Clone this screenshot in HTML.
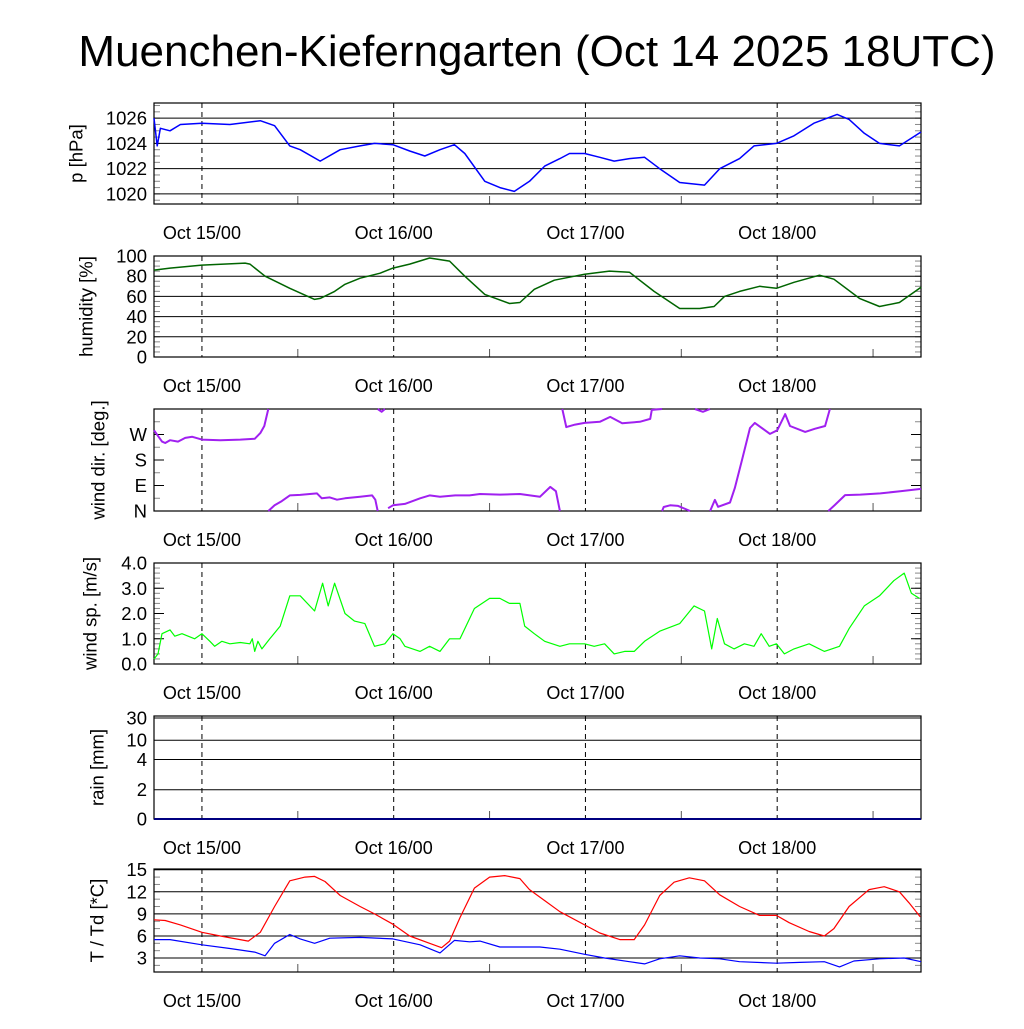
<!DOCTYPE html>
<html><head><meta charset="utf-8"><style>
body{margin:0;background:#fff;width:1024px;height:1024px;overflow:hidden}
svg{font-family:"Liberation Sans",sans-serif}
</style></head><body>
<svg id="c" width="1024" height="1024" xmlns="http://www.w3.org/2000/svg">
<text x="537" y="66" font-size="44" text-anchor="middle">Muenchen-Kieferngarten (Oct 14 2025 18UTC)</text>
</svg>
<script>
// hours since Oct 14 18UTC
const dayLabels=["Oct 15/00","Oct 16/00","Oct 17/00","Oct 18/00"];
const dayHours=[6,30,54,78];
const presT=[0,0.4,0.8,2,3.3,6,9.5,13.3,15.1,17,18.3,20.8,23.3,25.8,27.6,29.9,32,33.9,35.8,37.6,38.9,41.4,43.3,45.1,47,48.9,50.8,52,53.9,55.8,57.6,59.5,61.4,63.3,65.8,68.9,70.8,73.3,75.1,77.9,80.1,82.6,85.5,87,88.9,90.8,93.3,96];
const presV=[1026,1023.8,1025.2,1025,1025.5,1025.6,1025.5,1025.8,1025.4,1023.8,1023.5,1022.6,1023.5,1023.8,1024,1023.9,1023.4,1023,1023.5,1023.9,1023.2,1021,1020.5,1020.2,1021,1022.2,1022.8,1023.2,1023.2,1022.9,1022.6,1022.8,1022.9,1022,1020.9,1020.7,1022,1022.8,1023.8,1024,1024.6,1025.6,1026.3,1025.9,1024.8,1024,1023.8,1024.9];
const humT=[0,2,6,11.4,12,13.9,17,20.1,20.8,22.6,23.9,25.8,28.3,29.9,32,34.5,37,38.9,41.4,44.5,45.8,47.6,50.1,53.9,57,59.5,62.6,65.8,68.3,70.1,71.4,73.3,75.8,77.9,80.1,83.3,85.1,88.3,90.8,93.3,96];
const humV=[86,88,91,93,92,80,68,57,58,65,72,78,83,88,92,98,95,80,62,53,54,67,76,82,85,84,65,48,48,50,60,65,70,68,74,81,77,58,50,54,69];
const dirSegs=[
 [[0,285],[0.5,265],[1,245],[1.4,240],[2,250],[3,245],[3.9,258],[4.8,262],[6,252],[8.3,250],[10.8,252],[12.6,255],[13.3,275],[13.8,300],[14.3,360]],
 [[14.3,0],[15.1,20],[16,35],[17,55],[18.3,57],[19.5,60],[20.4,62],[21,45],[22,48],[22.9,40],[23.9,45],[25.8,50],[27.3,55],[27.7,40],[28,0]],
 [[28,360],[28.5,350],[28.9,360]],
 [[29.3,10],[29.9,20],[31.4,25],[33.3,45],[34.5,55],[35.8,50],[37.7,55],[39.5,55],[40.8,60],[43.3,58],[45.8,60],[48.3,50],[49.6,85],[50.3,70],[50.8,0]],
 [[51.1,360],[51.6,296],[52.7,305],[53.9,311],[55.8,315],[57.1,332],[58.6,310],[60.8,315],[62.1,325],[62.3,357],[63.6,360]],
 [[67.7,360],[68.7,350],[69.6,360]],
 [[63.6,0],[63.8,14],[64.6,20],[65.6,18],[67.1,0]],
 [[69.6,0],[70.2,39],[70.6,15],[72.1,30],[72.7,81],[73.6,180],[74.6,293],[75.2,311],[77.1,272],[78,285],[79,342],[79.6,300],[81.5,279],[82.7,290],[84,300],[84.6,360]],
 [[84.4,0],[85.2,21],[86.5,56],[88.4,58],[90.9,62],[93.4,70],[96,78]]];
const spdT=[0,0.5,1,2,2.6,3.5,5.1,6,7,7.6,8.5,9.5,10.8,12,12.3,12.6,13,13.5,14.5,15.8,17,18.3,20.1,21.1,21.8,22.6,23.9,25.1,26.4,27.6,28.9,29.9,30.8,31.4,33.3,34.5,35.8,37,38.3,40.1,42,43.3,44.5,45.8,46.4,47.6,48.9,50.8,52,53.9,55.1,56.4,57.6,58.9,60.1,61.4,63.3,65.8,67.6,68.9,69.8,70.5,71.4,72.6,73.9,75.1,76,77,77.9,78.9,80.1,82,83.9,85.8,87,88.9,90.8,92.6,93.9,94.8,95.8];
const spdV=[0.2,0.4,1.2,1.35,1.1,1.2,1.0,1.2,0.9,0.7,0.9,0.8,0.85,0.8,1.0,0.5,0.9,0.6,1.0,1.5,2.7,2.7,2.1,3.2,2.3,3.2,2.0,1.7,1.6,0.7,0.8,1.2,1.0,0.7,0.5,0.7,0.5,1.0,1.0,2.2,2.6,2.6,2.4,2.4,1.5,1.2,0.9,0.7,0.8,0.8,0.7,0.8,0.4,0.5,0.5,0.9,1.3,1.6,2.3,2.1,0.6,1.8,0.8,0.6,0.8,0.7,1.2,0.7,0.8,0.4,0.6,0.8,0.5,0.7,1.4,2.3,2.7,3.3,3.6,2.8,2.6];
const rainT=[0,96];
const rainV=[0,0];
const tT=[0,1.4,3.3,6,8.3,11.8,13.3,15.1,17,18.9,20.1,21.4,23.3,25.8,27.6,29.9,32,34.5,36,37,38.3,40.1,42,43.9,45.8,47,48.9,50.8,53.9,55.8,58.3,60.1,61.4,63.3,65.1,67,68.9,70.8,73.3,75.8,77.9,79.5,82,83.9,85.1,87,89.5,91.4,93.3,94.5,95.9];
const tV=[8.2,8.1,7.5,6.5,6.0,5.3,6.5,10,13.5,14,14.1,13.4,11.5,10.0,9,7.6,6,5,4.4,5.3,8.5,12.5,14,14.2,13.8,12.3,10.8,9.3,7.5,6.4,5.5,5.5,7.5,11.5,13.3,13.9,13.5,11.6,10.0,8.8,8.8,7.8,6.6,6.0,7.0,10.0,12.3,12.7,12.0,10.5,8.6];
const tdT=[0,2,6,9.5,12.6,13.9,15.1,17,18.3,20.1,22,25.8,29.9,33.3,35.8,37.6,39.5,40.8,43.3,48.3,50.8,53.9,56.4,59.5,61.4,63.3,65.8,68.3,70.8,73.3,77.9,80.8,83.9,85.8,87.6,90.8,93.9,96];
const tdV=[5.5,5.5,4.8,4.3,3.8,3.3,5,6.2,5.6,5.0,5.7,5.8,5.6,4.8,3.7,5.4,5.2,5.3,4.5,4.5,4.2,3.5,3.0,2.5,2.2,2.9,3.3,3.0,2.9,2.5,2.3,2.4,2.5,1.8,2.6,2.9,3.0,2.5];

const NS="http://www.w3.org/2000/svg";
const svg=document.getElementById('c');
const X0=154,X1=921,H=96;
const xs=h=>X0+(X1-X0)*h/H;
function el(tag,attrs,parent){const e=document.createElementNS(NS,tag);for(const k in attrs)e.setAttribute(k,attrs[k]);(parent||svg).appendChild(e);return e;}
function rainMap(v){const vs=[0,2,4,10,30],fr=[0,0.284,0.578,0.765,0.98];for(let i=1;i<vs.length;i++){if(v<=vs[i]){return fr[i-1]+(fr[i]-fr[i-1])*(v-vs[i-1])/(vs[i]-vs[i-1]);}}return 1;}
const panels=[
 {name:'pressure',top:103,bot:204,min:1019.2,max:1027.2,ticks:[1020,1022,1024,1026],labels:['1020','1022','1024','1026'],minor:0.5,title:'p [hPa]',tx:76},
 {name:'humidity',top:256,bot:357,min:0,max:100,ticks:[0,20,40,60,80,100],labels:['0','20','40','60','80','100'],minor:5,title:'humidity [%]',tx:86},
 {name:'wind-direction',top:409,bot:511,min:0,max:360,ticks:[0,90,180,270],labels:['N','E','S','W'],minor:45,title:'wind dir. [deg.]',nogrid:true,tx:98},
 {name:'wind-speed',top:563,bot:664,min:0,max:4,ticks:[0,1,2,3,4],labels:['0.0','1.0','2.0','3.0','4.0'],minor:0.2,title:'wind sp. [m/s]',nogrid:true,tx:90},
 {name:'rain',top:716,bot:819,min:0,max:1,map:rainMap,ticks:[0,2,4,10,30],labels:['0','2','4','10','30'],title:'rain [mm]',tx:97},
 {name:'temperature',top:869,bot:972,min:1.1,max:15.1,ticks:[3,6,9,12,15],labels:['3','6','9','12','15'],minor:1,title:'T / Td [*C]',tx:97}];
panels.forEach(p=>{
 const g=el('g',{});
 
 
 const ys=v=>{const f=p.map?p.map(v):(v-p.min)/(p.max-p.min);return p.bot-(p.bot-p.top)*f;};
 p.ys=ys;
 if(p.minor){for(let v=Math.ceil(p.min/p.minor)*p.minor;v<=p.max+1e-9;v+=p.minor){const y=ys(v);
  const a=el('line',{x1:X0,x2:X0+6,y1:y,y2:y,stroke:'#888','stroke-width':1},g);
  const b=el('line',{x1:X1-6,x2:X1,y1:y,y2:y,stroke:'#888','stroke-width':1},g);}}
 p.ticks.forEach((v,i)=>{const y=ys(v);
  if(!p.nogrid){const gl=el('line',{x1:X0,x2:X1,y1:y,y2:y,stroke:'#000','stroke-width':1},g);}
  else{el('line',{x1:X0,x2:X0+10,y1:y,y2:y,stroke:'#000'},g);el('line',{x1:X1-10,x2:X1,y1:y,y2:y,stroke:'#000'},g);}
  const t=el('text',{x:147,y:y+6.5,'font-size':18.5,'text-anchor':'end'},g);t.textContent=p.labels[i];
  });
 dayHours.forEach((h,i)=>{const x=xs(h);
  const d=el('line',{x1:x,x2:x,y1:p.top,y2:p.bot,stroke:'#000','stroke-dasharray':'5,4'},g);
  const t=el('text',{x:x,y:p.bot+35,'font-size':18,'text-anchor':'middle'},g);t.textContent=dayLabels[i];
  
  const m=el('line',{x1:xs(h+12),x2:xs(h+12),y1:p.bot-8,y2:p.bot,stroke:'#555'},g);});
 const bx=el('rect',{x:X0,y:p.top,width:X1-X0,height:p.bot-p.top,fill:'none',stroke:'#000','stroke-width':1.2},g);
 
 const cy=(p.top+p.bot)/2;
 const yt=el('text',{x:0,y:0,'font-size':18.5,'text-anchor':'middle',transform:`translate(${p.tx},${cy}) rotate(-90)`,'dominant-baseline':'central'},g);yt.textContent=p.title;
 
});
function line(p,T,V,color,w,name){const pts=T.map((t,i)=>xs(t).toFixed(1)+','+p.ys(V[i]).toFixed(1)).join(' ');
 const l=el('polyline',{points:pts,fill:'none',stroke:color,'stroke-width':w,'stroke-linejoin':'round'});
 }
line(panels[0],presT,presV,'#0000ff',1.5,'pressure-line');
line(panels[1],humT,humV,'#006400',1.5,'humidity-line');
dirSegs.forEach(s=>line(panels[2],s.map(q=>q[0]),s.map(q=>q[1]),'#a020f0',2,'wind-direction-line'));
line(panels[3],spdT,spdV,'#00ff00',1.2,'wind-speed-line');
line(panels[4],rainT,rainV,'#000080',2,'rain-line');
line(panels[5],tT,tV,'#ff0000',1.2,'temperature-line');
line(panels[5],tdT,tdV,'#0000ff',1.2,'dewpoint-line');
</script>
</body></html>
